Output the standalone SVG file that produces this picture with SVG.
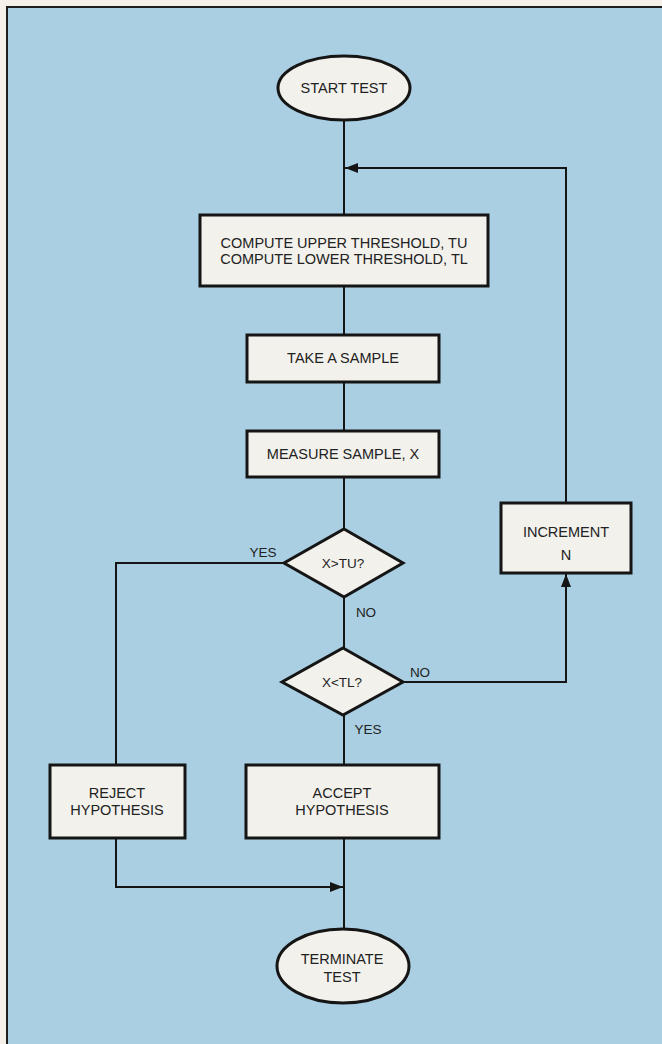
<svg xmlns="http://www.w3.org/2000/svg" width="662" height="1044" viewBox="0 0 662 1044">
  <defs>
    <style>
      .bg { fill: #f5f1e8; }
      .panel { fill: #aacfe2; stroke: #1e1e1e; stroke-width: 2; }
      .node { fill: #f3f1ec; stroke: #151515; stroke-width: 3; }
      .conn { fill: none; stroke: #151515; stroke-width: 2; }
      .t { font-family: "Liberation Sans", Arial, Helvetica, sans-serif; font-size: 14.5px; fill: #222; text-anchor: middle; dominant-baseline: central; }
      .lbl { font-family: "Liberation Sans", Arial, Helvetica, sans-serif; font-size: 13.5px; fill: #222; text-anchor: middle; dominant-baseline: central; }
    </style>
    <marker id="arrow" markerUnits="userSpaceOnUse" markerWidth="14" markerHeight="10" refX="13" refY="5" orient="auto">
      <path d="M0,0 L13,5 L0,10 z" fill="#151515"/>
    </marker>
  </defs>

  <rect class="bg" x="0" y="0" width="662" height="1044"/>
  <path class="panel" d="M7,1046 L7,7 L664,7"/>
  <rect x="8" y="8" width="656" height="1040" fill="#aacfe2"/>
  <path d="M7,1046 L7,7 L664,7" fill="none" stroke="#1e1e1e" stroke-width="2"/>

  <g id="connectors">
    <line class="conn" x1="344" y1="119" x2="344" y2="215"/>
    <line class="conn" x1="344" y1="286" x2="344" y2="335"/>
    <line class="conn" x1="344" y1="382" x2="344" y2="431"/>
    <line class="conn" x1="344" y1="477" x2="344" y2="529"/>
    <polyline class="conn" points="284,563 116,563 116,765"/>
    <line class="conn" x1="344" y1="597" x2="344" y2="648"/>
    <line class="conn" x1="344" y1="715" x2="344" y2="765"/>
    <polyline class="conn" points="403,682 566,682 566,574" marker-end="url(#arrow)"/>
    <polyline class="conn" points="566,503 566,168 345,168" marker-end="url(#arrow)"/>
    <polyline class="conn" points="116,838 116,887 343,887" marker-end="url(#arrow)"/>
    <line class="conn" x1="344" y1="838" x2="344" y2="928"/>
  </g>

  <g id="start">
    <ellipse class="node" cx="344" cy="88" rx="66" ry="32"/>
    <text class="t" x="344" y="88">START TEST</text>
  </g>

  <g id="compute">
    <rect class="node" x="200" y="215" width="288" height="71"/>
    <text class="t" x="344" y="243">COMPUTE UPPER THRESHOLD, TU</text>
    <text class="t" x="344" y="259">COMPUTE LOWER THRESHOLD, TL</text>
  </g>

  <g id="take-sample">
    <rect class="node" x="247" y="335" width="192" height="47"/>
    <text class="t" x="343" y="358">TAKE A SAMPLE</text>
  </g>

  <g id="measure-sample">
    <rect class="node" x="247" y="431" width="192" height="46"/>
    <text class="t" x="343" y="454">MEASURE SAMPLE, X</text>
  </g>

  <g id="decision-upper">
    <polygon class="node" points="344,529 403,563 344,597 284,563"/>
    <text class="lbl" x="343" y="563">X&gt;TU?</text>
  </g>

  <g id="decision-lower">
    <polygon class="node" points="343,648 403,682 343,715 282,682"/>
    <text class="lbl" x="342" y="682">X&lt;TL?</text>
  </g>

  <g id="increment">
    <rect class="node" x="501" y="503" width="130" height="70"/>
    <text class="t" x="566" y="532">INCREMENT</text>
    <text class="t" x="566" y="555">N</text>
  </g>

  <g id="reject">
    <rect class="node" x="50" y="765" width="135" height="73"/>
    <text class="t" x="117" y="793">REJECT</text>
    <text class="t" x="117" y="810">HYPOTHESIS</text>
  </g>

  <g id="accept">
    <rect class="node" x="246" y="765" width="193" height="73"/>
    <text class="t" x="342" y="793">ACCEPT</text>
    <text class="t" x="342" y="810">HYPOTHESIS</text>
  </g>

  <g id="terminate">
    <ellipse class="node" cx="343" cy="966" rx="66" ry="37"/>
    <text class="t" x="342" y="959">TERMINATE</text>
    <text class="t" x="342" y="977">TEST</text>
  </g>

  <g id="labels">
    <text class="lbl" x="263" y="552">YES</text>
    <text class="lbl" x="366" y="612">NO</text>
    <text class="lbl" x="420" y="672">NO</text>
    <text class="lbl" x="368" y="729">YES</text>
  </g>
</svg>
